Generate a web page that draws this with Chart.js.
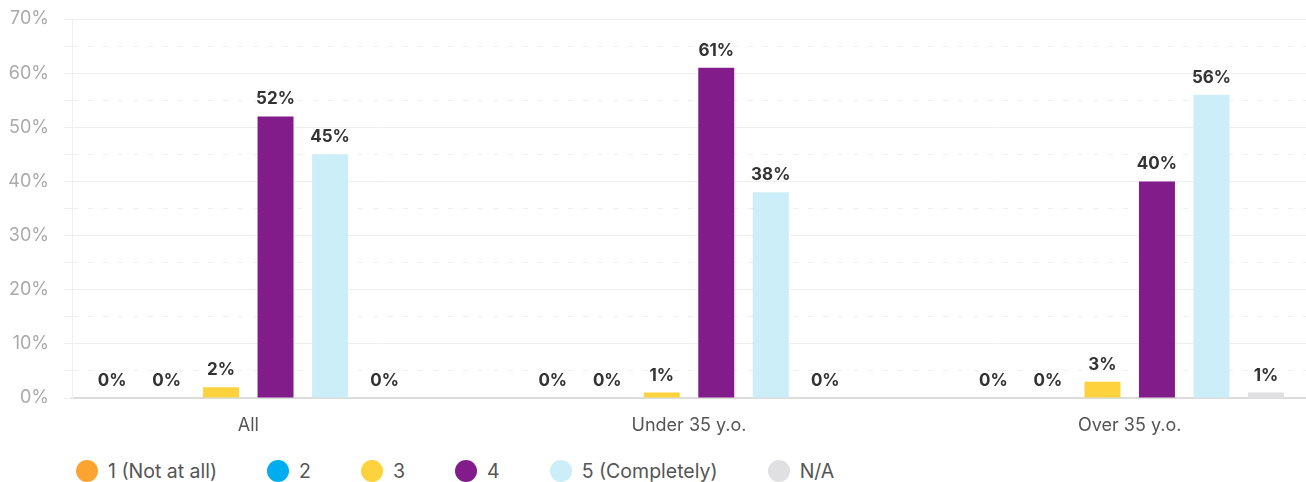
<!DOCTYPE html>
<html>
<head>
<meta charset="utf-8">
<script src="https://cdn.jsdelivr.net/npm/chart.js@4/dist/chart.umd.min.js"></script>
<style>
  html, body { margin: 0; padding: 0; background: #fff; }
  #wrap { position: relative; width: 1306px; height: 482px; font-family: Inter, "Noto Sans", sans-serif; }
  #box { position: absolute; left: 0; top: 0; width: 1306px; height: 440px; }
  #legend { position: absolute; left: 76px; top: 460px; display: flex; align-items: center; margin: 0; padding: 0; list-style: none; }
  #legend li { display: flex; align-items: center; margin-right: 50px; font-size: 19.5px; line-height: 22px; color: #555; white-space: nowrap; }
  #legend span { display: inline-block; width: 22px; height: 22px; border-radius: 50%; margin-right: 10px; }
</style>
</head>
<body>
<div id="wrap">
  <div id="box"><canvas id="stats"></canvas></div>
  <ul id="legend"></ul>
</div>
<script>
  // groups on the x axis
  var groups = ["All", "Under 35 y.o.", "Over 35 y.o."];
  // answer scale, one series each
  var answers = ["1 (Not at all)", "2", "3", "4", "5 (Completely)", "N/A"];
  var colors = ["#FBA431", "#00AEEF", "#FDD23D", "#821C8B", "#CCEEF9", "#E0E0E2"];
  // share of answers in percent, per group
  var notAtAll = [0, 0, 0];
  var two = [0, 0, 0];
  var three = [2, 1, 3];
  var four = [52, 61, 40];
  var completely = [45, 38, 56];
  var na = [0, 0, 1];
  var yTicks = [0, 10, 20, 30, 40, 50, 60, 70];

  var font = "Inter, 'Noto Sans', sans-serif";
  var series = [notAtAll, two, three, four, completely, na];

  // Percent labels above every bar
  var barLabels = {
    id: "barLabels",
    afterDatasetsDraw: function (chart) {
      var ctx = chart.ctx;
      ctx.save();
      ctx.font = "bold 17px " + font;
      ctx.fillStyle = "#333";
      ctx.textAlign = "center";
      ctx.textBaseline = "alphabetic";
      chart.data.datasets.forEach(function (ds, i) {
        chart.getDatasetMeta(i).data.forEach(function (bar, j) {
          ctx.fillText(ds.data[j].y + "%", bar.x, bar.y - 12);
        });
      });
      ctx.restore();
    }
  };

  var datasets = series.map(function (values, i) {
    return {
      label: answers[i],
      backgroundColor: colors[i],
      borderWidth: 0,
      categoryPercentage: 0.742,
      barPercentage: 0.66,
      data: values.map(function (v, j) {
        return { x: j, y: v };
      })
    };
  });

  var chart = new Chart(document.getElementById("stats"), {
    type: "bar",
    data: { datasets: datasets },
    plugins: [barLabels],
    options: {
      responsive: true,
      maintainAspectRatio: false,
      animation: false,
      layout: { padding: { top: 19, bottom: 0, left: 0, right: 0 } },
      plugins: {
        legend: { display: false },
        tooltip: { enabled: false }
      },
      scales: {
        x: {
          type: "linear",
          offset: false,
          min: -0.4,
          max: 2.4,
          afterBuildTicks: function (scale) {
            scale.ticks = groups.map(function (g, i) {
              return { value: i };
            });
          },
          afterFit: function (scale) {
            scale.height = 42;
          },
          ticks: {
            padding: 17,
            maxRotation: 0,
            color: "#555",
            font: { family: font, size: 18 },
            callback: function (v) {
              return groups[v];
            }
          },
          grid: { display: false, drawTicks: false },
          border: { color: "#dcdcdc", width: 2 }
        },
        y: {
          min: 0,
          max: 70,
          afterFit: function (scale) {
            // fixed axis width, top edge taken from layout padding
            scale.width = 72;
            scale.paddingTop = 0;
          },
          ticks: {
            stepSize: 5,
            padding: 15,
            color: "#aaa",
            font: { family: font, size: 18 },
            callback: function (v) {
              return yTicks.indexOf(v) !== -1 ? v + "%" : "";
            }
          },
          grid: { color: "#efefef", tickLength: 8 },
          border: {
            color: "#efefef",
            dash: function (c) {
              return c.tick && yTicks.indexOf(c.tick.value) === -1 ? [5, 10] : [];
            }
          }
        }
      }
    }
  });

  // html legend
  var list = document.getElementById("legend");
  answers.forEach(function (name, i) {
    var li = document.createElement("li");
    var dot = document.createElement("span");
    dot.style.background = colors[i];
    li.appendChild(dot);
    li.appendChild(document.createTextNode(name));
    list.appendChild(li);
  });
</script>
</body>
</html>
